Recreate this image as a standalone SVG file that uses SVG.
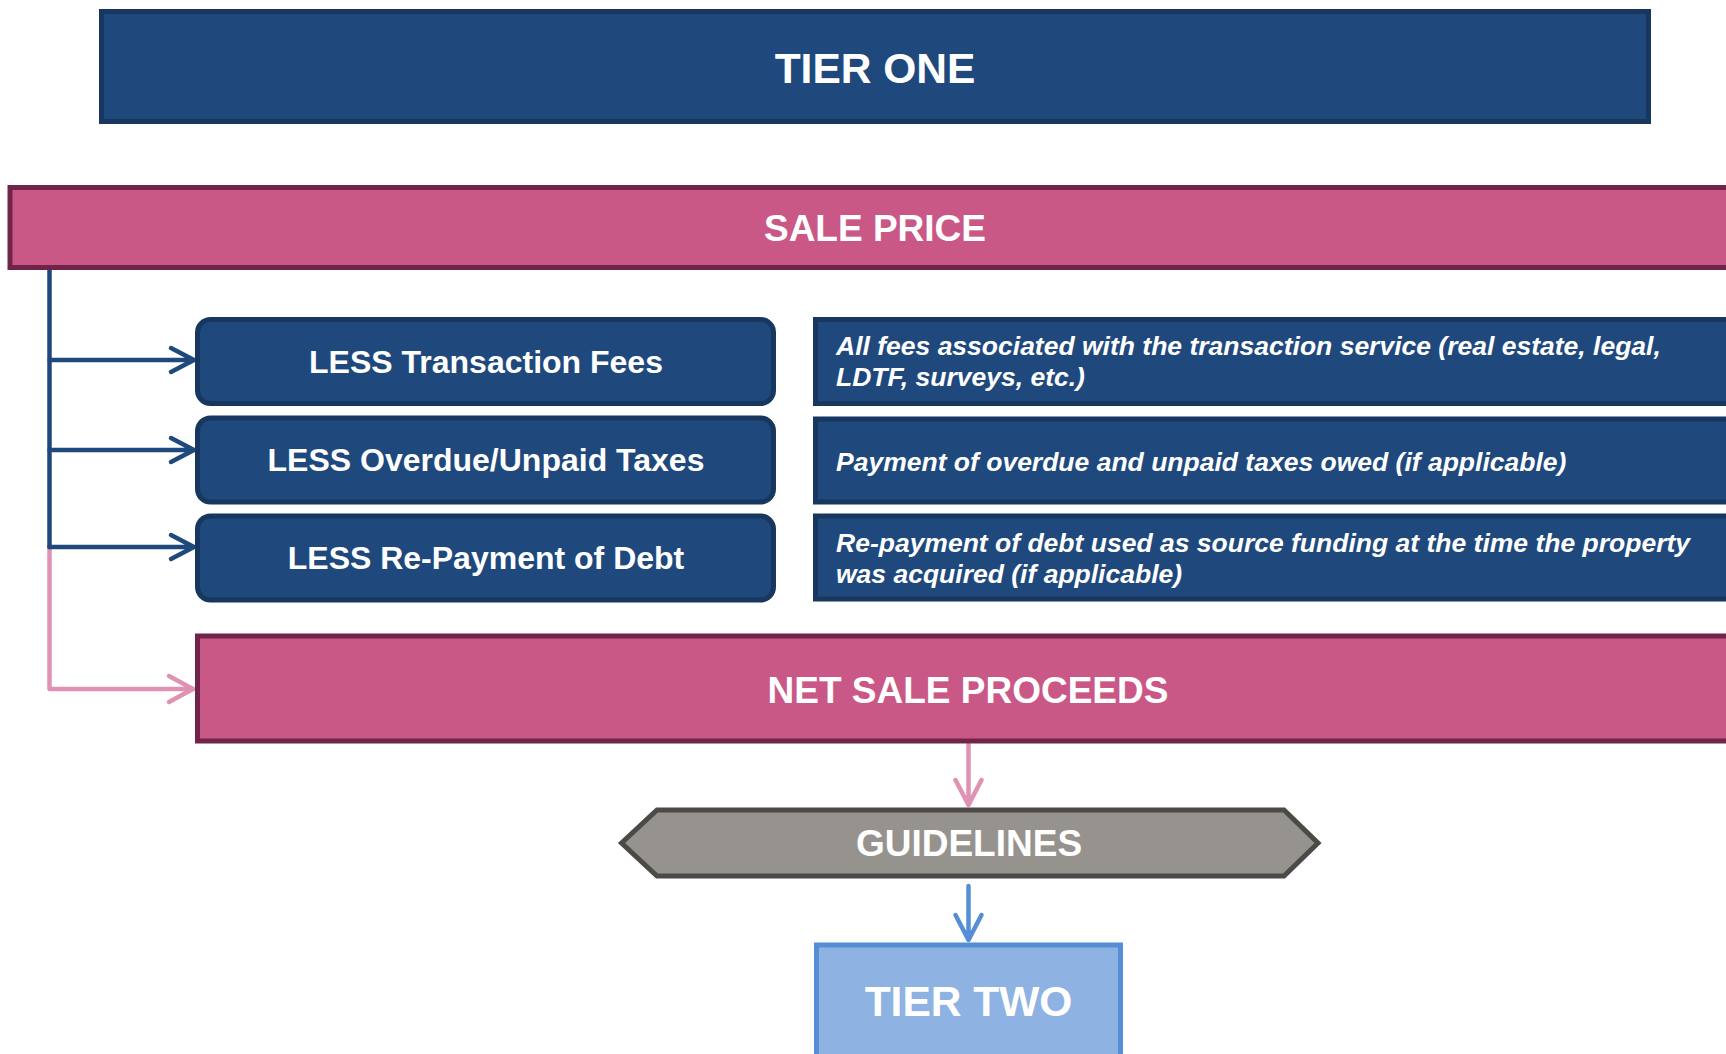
<svg xmlns="http://www.w3.org/2000/svg" width="1726" height="1054" viewBox="0 0 1726 1054">
<style>
.navy{fill:#1F497D;stroke:#17375E;stroke-width:5}
.pink{fill:#C95886;stroke:#71244A;stroke-width:5}
.t{font-family:"Liberation Sans",Arial,sans-serif;font-weight:bold;fill:#FFFFFF;text-anchor:middle}
.d{font-family:"Liberation Sans",Arial,sans-serif;font-weight:bold;font-style:italic;fill:#FFFFFF;font-size:26.5px}
.cb{fill:none;stroke:#1F497D;stroke-width:4.5;stroke-linecap:round;stroke-linejoin:round}
.cp{fill:none;stroke:#DF92B3;stroke-width:4.5;stroke-linecap:round;stroke-linejoin:round}
.cl{fill:none;stroke:#558ED5;stroke-width:4.5;stroke-linecap:round;stroke-linejoin:round}
</style>
<rect width="1726" height="1054" fill="#FFFFFF"/>
<g id="connectors">
<path class="cp" d="M49.5 547 V689 H193"/>
<path class="cp" d="M169 676 L193 689 L169 702"/>
<path class="cb" d="M49.5 270 V547"/>
<path class="cb" d="M49.5 360 H193 M171 348 L194 360 L171 372"/>
<path class="cb" d="M49.5 450 H193 M171 438 L194 450 L171 462"/>
<path class="cb" d="M49.5 547 H193 M171 535 L194 547 L171 559"/>
<path class="cp" d="M968.5 745 V804 M955.5 780 L968.5 805 L981.5 780"/>
<path class="cl" d="M968.5 886 V939 M955.5 915 L968.5 940 L981.5 915"/>
</g>
<g id="tier-one">
<rect class="navy" x="101.5" y="11.5" width="1547" height="110"/>
<text class="t" x="875" y="82.5" font-size="42.5">TIER ONE</text>
</g>
<g id="sale-price">
<rect class="pink" x="10" y="187.5" width="1760" height="80"/>
<text class="t" x="875" y="241" font-size="37">SALE PRICE</text>
</g>
<g id="less-fees">
<rect class="navy" x="197.5" y="319.5" width="576" height="84" rx="13"/>
<text class="t" x="486" y="372.5" font-size="32">LESS Transaction Fees</text>
</g>
<g id="less-taxes">
<rect class="navy" x="197.5" y="418" width="576" height="84" rx="13"/>
<text class="t" x="486" y="471" font-size="32">LESS Overdue/Unpaid Taxes</text>
</g>
<g id="less-debt">
<rect class="navy" x="197.5" y="516" width="576" height="84" rx="13"/>
<text class="t" x="486" y="569" font-size="32">LESS Re-Payment of Debt</text>
</g>
<g id="desc-fees">
<rect class="navy" x="815.5" y="319.5" width="960" height="84"/>
<text class="d" x="836" y="355">All fees associated with the transaction service (real estate, legal,</text>
<text class="d" x="836" y="385.5">LDTF, surveys, etc.)</text>
</g>
<g id="desc-taxes">
<rect class="navy" x="815.5" y="419" width="960" height="83"/>
<text class="d" x="836" y="471">Payment of overdue and unpaid taxes owed (if applicable)</text>
</g>
<g id="desc-debt">
<rect class="navy" x="815.5" y="516" width="960" height="83"/>
<text class="d" x="836" y="552">Re-payment of debt used as source funding at the time the property</text>
<text class="d" x="836" y="583">was acquired (if applicable)</text>
</g>
<g id="net-sale-proceeds">
<rect class="pink" x="197.5" y="636" width="1580" height="105"/>
<text class="t" x="968" y="703" font-size="37">NET SALE PROCEEDS</text>
</g>
<g id="guidelines">
<polygon points="621.5,843 657,810 1284,810 1318,843 1284,876 657,876" fill="#96938E" stroke="#4B4A46" stroke-width="5" stroke-linejoin="miter"/>
<text class="t" x="969" y="856" font-size="37">GUIDELINES</text>
</g>
<g id="tier-two">
<rect x="816.5" y="945" width="304" height="130" fill="#8EB2E1" stroke="#558ED5" stroke-width="5"/>
<text class="t" x="968.5" y="1016" font-size="42.5">TIER TWO</text>
</g>
</svg>
